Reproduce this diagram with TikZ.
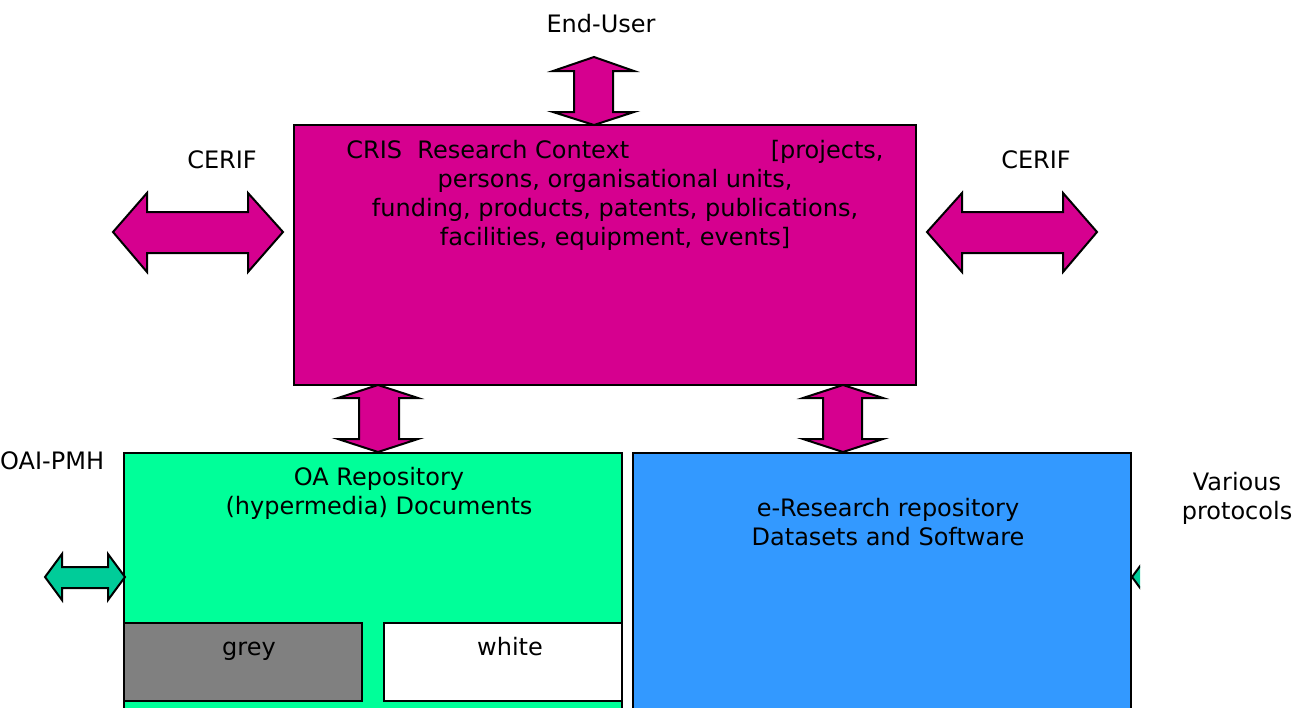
\documentclass[tikz,border=0pt]{standalone}
\usepackage{fontspec}
\setmainfont{DejaVu Sans}
\definecolor{crismag}{RGB}{214,0,143}
\definecolor{oagreen}{RGB}{0,255,153}
\definecolor{eblue}{RGB}{51,153,255}
\definecolor{teal}{RGB}{0,204,153}
\definecolor{greybox}{RGB}{128,128,128}
\tikzset{
  box/.style={draw=black, line width=2pt},
  blockarrow/.style={draw=black, line width=2pt, line join=miter},
  lbl/.style={font=\fontsize{24}{29}\selectfont, inner sep=0pt, anchor=center, align=center},
  single/.style={lbl, text height=17.5pt, text depth=0pt},
}
\begin{document}
\begin{tikzpicture}[x=1pt,y=-1pt]
\useasboundingbox (0,0) rectangle (1313,707);
\clip (0,0) rectangle (1313,707);

% CRIS box
\draw[box, fill=crismag] (294,125) rectangle (916,385);
\node[lbl] (cris) at (615,195) {CRIS\ \ Research Context\hspace{5.9em}[projects,\\
  persons, organisational units,\\
  funding, products, patents, publications,\\
  facilities, equipment, events]};

% repositories
\draw[box, fill=oagreen] (124,453) rectangle (622,720);
\draw[box, fill=eblue] (633,453) rectangle (1131,720);
\node[lbl] (oa) at (379,493) {OA Repository\\(hypermedia) Documents};
\node[lbl] (eres) at (888,522) {e-Research repository\\Datasets and Software};

% grey / white literature
\draw[box, line width=1.6pt, fill=greybox] (124,623) rectangle (362,701);
\draw[box, line width=1.6pt, fill=white] (384,623) rectangle (622,701);
\node[single] (grey) at (249,647) {grey};
\node[single] (white) at (510,647) {white};

% labels
\node[single] (enduser) at (601,24) {End-User};
\node[single] (cerifl) at (222,160) {CERIF};
\node[single] (cerifr) at (1036,160) {CERIF};
\node[single, anchor=west] (oaipmh) at (0,461) {OAI-PMH};
\node[lbl] (various) at (1237,498) {Various\\protocols};

% End-User <-> CRIS
\draw[blockarrow, fill=crismag] (594,57) -- (634,71) -- (613,71) -- (613,112) -- (634,112)
  -- (594,125) -- (553,112) -- (574,112) -- (574,71) -- (553,71) -- cycle;

% CERIF left
\draw[blockarrow, fill=crismag] (113,232) -- (147,193) -- (147,212) -- (248,212) -- (248,193)
  -- (283,232) -- (248,272) -- (248,253) -- (147,253) -- (147,272) -- cycle;
% CERIF right
\draw[blockarrow, fill=crismag] (927,232) -- (962,193) -- (962,212) -- (1063,212) -- (1063,193)
  -- (1097,232) -- (1063,272) -- (1063,253) -- (962,253) -- (962,272) -- cycle;

% CRIS <-> OA repository
\draw[blockarrow, fill=crismag] (378,385) -- (418,398) -- (399,398) -- (399,439) -- (418,439)
  -- (378,452) -- (338,439) -- (359,439) -- (359,398) -- (338,398) -- cycle;
% CRIS <-> e-Research repository
\draw[blockarrow, fill=crismag] (843,385) -- (883,398) -- (862,398) -- (862,439) -- (883,439)
  -- (843,452) -- (803,439) -- (823,439) -- (823,398) -- (803,398) -- cycle;

% OAI-PMH harvesting
\draw[blockarrow, fill=teal] (45,577) -- (62,554) -- (62,567) -- (108,567) -- (108,554)
  -- (125,577) -- (108,600) -- (108,588) -- (62,588) -- (62,600) -- cycle;

% other protocols (cut at the frame edge)
\begin{scope}
  \clip (1125,540) rectangle (1140,620);
  \draw[blockarrow, fill=teal] (1132,577) -- (1149,554) -- (1149,567) -- (1195,567) -- (1195,554)
    -- (1212,577) -- (1195,600) -- (1195,588) -- (1149,588) -- (1149,600) -- cycle;
\end{scope}
\end{tikzpicture}
\end{document}
